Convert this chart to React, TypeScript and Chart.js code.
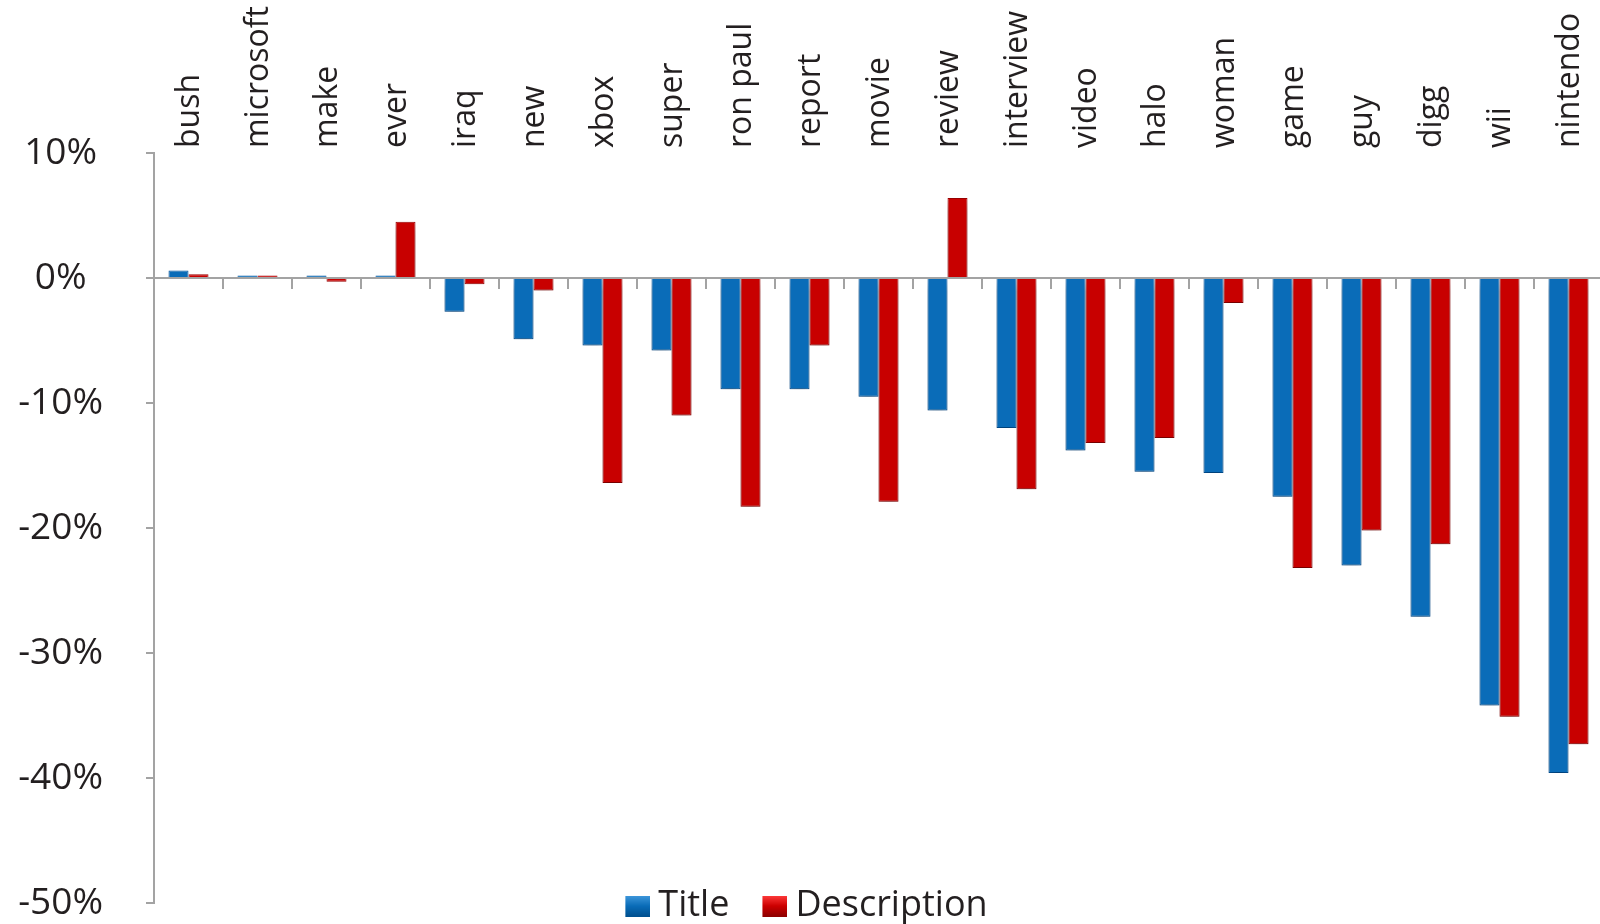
import React, { useEffect, useRef } from 'react';
import { Chart, registerables } from 'chart.js';

Chart.register(...registerables);

const categories = [
  'bush', 'microsoft', 'make', 'ever', 'iraq', 'new', 'xbox', 'super', 'ron paul', 'report',
  'movie', 'review', 'interview', 'video', 'halo', 'woman', 'game', 'guy', 'digg', 'wii', 'nintendo',
];
const titleValues = [
  0.6, 0.2, 0.2, 0.2, -2.7, -4.9, -5.4, -5.8, -8.9, -8.9,
  -9.5, -10.6, -12.0, -13.8, -15.5, -15.6, -17.5, -23.0, -27.1, -34.2, -39.6,
];
const descriptionValues = [
  0.3, 0.2, -0.3, 4.5, -0.5, -1.0, -16.4, -11.0, -18.3, -5.4,
  -17.9, 6.4, -16.9, -13.2, -12.8, -2.0, -23.2, -20.2, -21.3, -35.1, -37.3,
];
const seriesNames = ['Title', 'Description'];
const yMin = -50;
const yMax = 10;
const yStep = 10;

const FONT = "'Open Sans', 'Noto Sans', 'DejaVu Sans', sans-serif";
const TEXT = '#231f20';
const AXIS = '#a3a3a3';

function makeLegendBox(light: string, base: string, dark: string): HTMLCanvasElement {
  const c = document.createElement('canvas');
  c.width = 45;
  c.height = 21;
  const g = c.getContext('2d')!;
  const grad = g.createLinearGradient(0, 0, 0, 21);
  grad.addColorStop(0, light);
  grad.addColorStop(0.5, base);
  grad.addColorStop(1, dark);
  g.fillStyle = grad;
  g.fillRect(20, 0, 25, 21);
  return c;
}

const barShadow = {
  id: 'barShadow',
  beforeDatasetsDraw(chart: any) {
    const ctx = chart.ctx;
    ctx.save();
    ctx.shadowColor = 'rgba(0,0,0,0.28)';
    ctx.shadowBlur = 8;
    ctx.shadowOffsetY = 6;
  },
  afterDatasetsDraw(chart: any) {
    chart.ctx.restore();
  },
};

const LEGEND_SHIFT = 38;
const legendShift = {
  id: 'legendShift',
  afterLayout(chart: any) {
    const lg = chart.legend;
    if (lg) {
      lg.top -= LEGEND_SHIFT;
      lg.bottom -= LEGEND_SHIFT;
    }
  },
};

export default function App() {
  const ref = useRef<HTMLCanvasElement>(null);

  useEffect(() => {
    const canvas = ref.current!;
    const boxes = [
      makeLegendBox('#3f98dc', '#0a6cb8', '#00508f'),
      makeLegendBox('#ff3b3b', '#cc0000', '#8e0000'),
    ];
    const chart = new Chart(canvas, {
      type: 'bar',
      data: {
        labels: categories,
        datasets: [
          {
            label: seriesNames[0],
            data: titleValues,
            backgroundColor: '#0a6cb8',
            borderColor: '#0056a0',
            borderWidth: 1,
          },
          {
            label: seriesNames[1],
            data: descriptionValues,
            backgroundColor: '#c80000',
            borderColor: '#9a0000',
            borderWidth: 1,
          },
        ],
      },
      options: {
        responsive: false,
        animation: false,
        layout: { padding: 0 },
        datasets: {
          bar: { barPercentage: 1, categoryPercentage: 0.58 },
        },
        scales: {
          x: {
            type: 'category',
            position: { y: 0 } as any,
            offset: true,
            ticks: { display: false },
            grid: {
              display: true,
              offset: true,
              drawOnChartArea: false,
              drawTicks: true,
              tickLength: 10,
              color: AXIS,
              lineWidth: 2,
            },
            border: { display: true, color: AXIS, width: 2 },
          },
          xTop: {
            type: 'category',
            labels: categories,
            position: 'top',
            offset: true,
            grid: { display: false, drawTicks: false, offset: true },
            border: { display: false },
            ticks: {
              autoSkip: false,
              maxRotation: 90,
              minRotation: 90,
              padding: 5,
              labelOffset: 40,
              color: TEXT,
              font: { family: FONT, size: 32 },
            },
            afterFit(scale: any) {
              scale.height = 153;
            },
          },
          y: {
            min: yMin,
            max: yMax,
            position: 'left',
            ticks: {
              stepSize: yStep,
              crossAlign: 'center',
              padding: 43,
              color: TEXT,
              font: { family: FONT, size: 37 },
              callback: (v: any) => `${v}%`,
            },
            grid: {
              display: true,
              drawOnChartArea: false,
              drawTicks: true,
              tickLength: 8,
              color: AXIS,
              lineWidth: 2,
            },
            border: { display: true, color: AXIS, width: 2 },
            afterFit(scale: any) {
              scale.width = 154;
            },
          },
        },
        plugins: {
          legend: {
            position: 'bottom',
            align: 'center',
            labels: {
              usePointStyle: true,
              pointStyleWidth: 25,
              boxWidth: 25,
              boxHeight: 21,
              padding: 23,
              color: TEXT,
              font: { family: FONT, size: 36 },
              generateLabels(ch: any) {
                const items = Chart.defaults.plugins.legend.labels.generateLabels(ch);
                return items.map((it: any, i: number) => ({ ...it, pointStyle: boxes[i] }));
              },
            },
          },
          tooltip: { enabled: false },
          title: { display: false },
        },
      },
      plugins: [barShadow, legendShift],
    } as any);
    return () => chart.destroy();
  }, []);

  return (
    <div
      style={{
        position: 'fixed',
        left: 0,
        top: 0,
        width: 1600,
        height: 924,
        overflow: 'hidden',
        background: '#ffffff',
      }}
    >
      <canvas ref={ref} width={1603} height={972} style={{ display: 'block' }} />
    </div>
  );
}
